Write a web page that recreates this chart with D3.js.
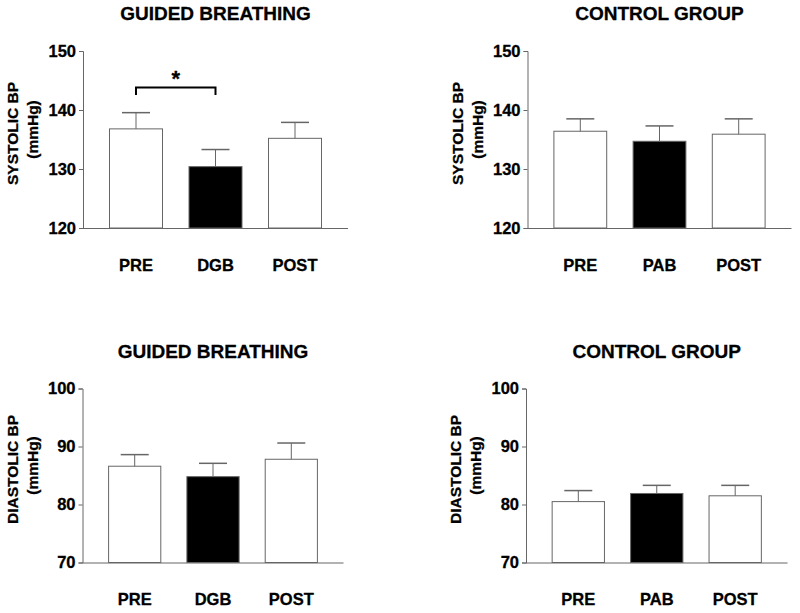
<!DOCTYPE html>
<html>
<head>
<meta charset="utf-8">
<script src="https://cdn.jsdelivr.net/npm/d3@7"></script>
<style>
	body { margin: 0; background: #fff; }
	svg { display: block; font-family: "Liberation Sans", Arial, sans-serif; font-weight: bold; }
	text { stroke: #000; stroke-width: 0.3px; }
	.tick text { font-size: 16.5px; font-weight: bold; fill: #000; }
	.domain, .tick line { stroke: #666; }
	.title { font-size: 19px; }
	.ylabel { font-size: 15.5px; }
</style>
</head>
<body>
<svg id="chart" width="800" height="613"></svg>
<script>
// data (mean and SEM, mmHg)
const groupGB = ["PRE", "DGB", "POST"]
const groupCG = ["PRE", "PAB", "POST"]
const fills = ["#fff", "#000", "#fff"]

const sbpGB = [136.8, 130.4, 135.2]
const sbpGBErr = [2.75, 2.9, 2.7]
const sbpCG = [136.4, 134.7, 135.9]
const sbpCGErr = [2.1, 2.6, 2.6]

const dbpGB = [86.6, 84.8, 87.8]
const dbpGBErr = [2.0, 2.3, 2.8]
const dbpCG = [80.5, 81.9, 81.5]
const dbpCGErr = [1.9, 1.4, 1.8]

const sbpTicks = [120, 130, 140, 150]
const dbpTicks = [70, 80, 90, 100]

// significance: PRE vs DGB in guided breathing, systolic
const sigPair = ["PRE", "DGB"]
const sigLevel = 143.8

const svg = d3.select("#chart")

function panel(p) {
	const g = svg.append("g")

	const x = d3.scaleBand()
		.domain(p.cats)
		.range([p.x0, p.x1])
		.paddingInner(1 / 3)
		.paddingOuter(1 / 3)

	const y = d3.scaleLinear()
		.domain([p.ticks[0], p.ticks[p.ticks.length - 1]])
		.range([p.y1, p.y0])

	const rows = p.cats.map((c, i) => ({ cat: c, val: p.vals[i], err: p.errs[i], fill: fills[i] }))

	// bars
	g.selectAll("rect.bar").data(rows).enter().append("rect")
		.classed("bar", true)
		.attr("x", d => x(d.cat))
		.attr("y", d => y(d.val))
		.attr("width", x.bandwidth())
		.attr("height", d => y(p.ticks[0]) - y(d.val))
		.attr("fill", d => d.fill)
		.attr("stroke", "#666")
		.attr("stroke-width", 1)

	// error bars (upper only)
	const cap = 14
	g.selectAll("line.err").data(rows).enter().append("line")
		.classed("err", true)
		.attr("x1", d => x(d.cat) + x.bandwidth() / 2)
		.attr("x2", d => x(d.cat) + x.bandwidth() / 2)
		.attr("y1", d => y(d.val))
		.attr("y2", d => y(d.val + d.err))
		.attr("stroke", "#666")
	g.selectAll("line.cap").data(rows).enter().append("line")
		.classed("cap", true)
		.attr("x1", d => x(d.cat) + x.bandwidth() / 2 - cap)
		.attr("x2", d => x(d.cat) + x.bandwidth() / 2 + cap)
		.attr("y1", d => y(d.val + d.err))
		.attr("y2", d => y(d.val + d.err))
		.attr("stroke", "#666")
		.attr("stroke-width", 1.5)

	// axes
	g.append("g")
		.attr("transform", "translate(" + p.x0 + ",0)")
		.call(d3.axisLeft(y).tickValues(p.ticks).tickSize(4).tickPadding(3))

	g.append("g")
		.attr("transform", "translate(0," + p.y1 + ")")
		.call(d3.axisBottom(x).tickSize(0).tickPadding(31))
		.call(a => a.select(".domain").attr("d", "M" + p.x0 + ",0.5H" + p.x1))

	// title
	g.append("text")
		.classed("title", true)
		.attr("x", (p.x0 + p.x1) / 2)
		.attr("y", p.y0 - 31)
		.attr("text-anchor", "middle")
		.text(p.title)

	// y label, two lines
	const cy = (p.y0 + p.y1) / 2 - 6
	g.append("text")
		.classed("ylabel", true)
		.attr("transform", "translate(" + (p.x0 - 65) + "," + cy + ") rotate(-90)")
		.attr("text-anchor", "middle")
		.text(p.ylabel)
	g.append("text")
		.classed("ylabel", true)
		.attr("transform", "translate(" + (p.x0 - 45) + "," + (cy - 4) + ") rotate(-90)")
		.attr("text-anchor", "middle")
		.text("(mmHg)")

	// significance bracket
	if (p.sig) {
		const xa = x(sigPair[0]) + x.bandwidth() / 2
		const xb = x(sigPair[1]) + x.bandwidth() / 2
		const ys = y(sigLevel)
		g.append("path")
			.attr("d", "M" + xa + "," + (ys + 7.5) + "V" + ys + "H" + xb + "V" + (ys + 7.5))
			.attr("fill", "none")
			.attr("stroke", "#000")
			.attr("stroke-width", 2)
		g.append("text")
			.attr("x", (xa + xb) / 2)
			.attr("y", ys - 2)
			.attr("text-anchor", "middle")
			.style("font-size", "22px")
			.text("*")
	}
}

panel({ cats: groupGB, vals: sbpGB, errs: sbpGBErr, ticks: sbpTicks, title: "GUIDED BREATHING",
	ylabel: "SYSTOLIC BP", x0: 83, x1: 348, y0: 51, y1: 228, sig: true })
panel({ cats: groupCG, vals: sbpCG, errs: sbpCGErr, ticks: sbpTicks, title: "CONTROL GROUP",
	ylabel: "SYSTOLIC BP", x0: 527.5, x1: 791.5, y0: 51, y1: 228 })
panel({ cats: groupGB, vals: dbpGB, errs: dbpGBErr, ticks: dbpTicks, title: "GUIDED BREATHING",
	ylabel: "DIASTOLIC BP", x0: 82.5, x1: 343.5, y0: 388.5, y1: 562.5 })
panel({ cats: groupCG, vals: dbpCG, errs: dbpCGErr, ticks: dbpTicks, title: "CONTROL GROUP",
	ylabel: "DIASTOLIC BP", x0: 526, x1: 787.5, y0: 388.5, y1: 562.5 })
</script>
</body>
</html>
